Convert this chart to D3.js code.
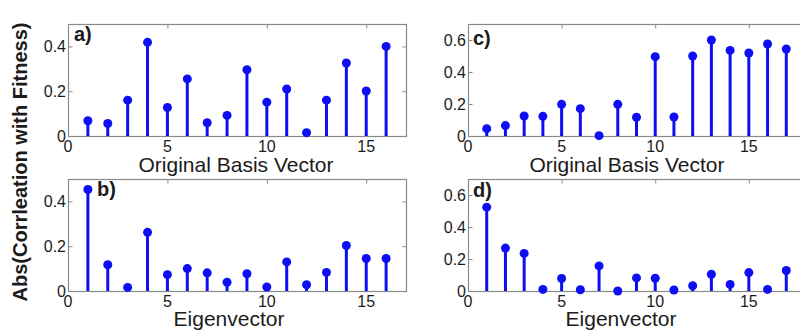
<!DOCTYPE html>
<html>
<head>
<meta charset="utf-8">
<script src="https://cdn.jsdelivr.net/npm/d3@7"></script>
<style>
  html, body { margin: 0; padding: 0; background: #fff; }
  svg { display: block; font-family: "Liberation Sans", Arial, sans-serif; }
</style>
</head>
<body>
<svg id="chart" width="800" height="330"></svg>
<script>
// ---- data ----
const indexA = d3.range(1, 17);
const valuesA = [0.068, 0.056, 0.16, 0.418, 0.127, 0.255, 0.059, 0.092, 0.296, 0.151, 0.21, 0.015, 0.16, 0.326, 0.201, 0.40];
const indexB = d3.range(1, 17);
const valuesB = [0.453, 0.117, 0.016, 0.262, 0.073, 0.10, 0.081, 0.039, 0.077, 0.018, 0.13, 0.028, 0.083, 0.203, 0.145, 0.145];
const indexC = d3.range(1, 18);
const valuesC = [0.046, 0.065, 0.125, 0.123, 0.198, 0.171, 0.002, 0.198, 0.117, 0.496, 0.119, 0.50, 0.60, 0.535, 0.519, 0.575, 0.544];
const indexD = d3.range(1, 18);
const valuesD = [0.524, 0.268, 0.235, 0.01, 0.078, 0.008, 0.157, 0.0, 0.082, 0.08, 0.006, 0.033, 0.105, 0.041, 0.115, 0.01, 0.128];
const xTicks = [0, 5, 10, 15];
const yTicksLeft = [0, 0.2, 0.4];
const yTicksRight = [0, 0.2, 0.4, 0.6];
const panelLabels = ["a)", "b)", "c)", "d)"];
const xTitles = ["Original Basis Vector", "Eigenvector", "Original Basis Vector", "Eigenvector"];
const yTitle = "Abs(Corrleation with Fitness)";

// ---- layout ----
const svg = d3.select("#chart");
const stemColor = "rgb(14,14,242)";
const frameColor = "#8a8a8a";
const textColor = "#1b1b1b";

const panels = [
  { idx: indexA, vals: valuesA, xDom: [0, 17], xRange: [68, 406], yDom: [0, 0.5], yRange: [136, 24], yTicks: yTicksLeft, label: panelLabels[0], lx: 74, ly: 41, title: xTitles[0], tx: 236, ty: 172 },
  { idx: indexB, vals: valuesB, xDom: [0, 17], xRange: [68, 406], yDom: [0, 0.5], yRange: [291, 179], yTicks: yTicksLeft, label: panelLabels[1], lx: 97, ly: 196, title: xTitles[1], tx: 229, ty: 326 },
  { idx: indexC, vals: valuesC, xDom: [0, 18], xRange: [468, 805], yDom: [0, 0.7], yRange: [136, 24], yTicks: yTicksRight, label: panelLabels[2], lx: 473, ly: 45, title: xTitles[2], tx: 627, ty: 172 },
  { idx: indexD, vals: valuesD, xDom: [0, 18], xRange: [468, 805], yDom: [0, 0.7], yRange: [291, 179], yTicks: yTicksRight, label: panelLabels[3], lx: 473, ly: 197, title: xTitles[3], tx: 621, ty: 326 }
];

const fmt = d => d === 0 ? "0" : d3.format(".1f")(d);

panels.forEach(p => {
  const x = d3.scaleLinear().domain(p.xDom).range(p.xRange);
  const y = d3.scaleLinear().domain(p.yDom).range(p.yRange);
  const g = svg.append("g");
  const [x0, x1] = p.xRange;
  const [yb, yt] = p.yRange;

  // frame
  g.append("rect")
    .attr("x", x0 + 0.5).attr("y", yt + 0.5)
    .attr("width", x1 - x0).attr("height", yb - yt)
    .attr("fill", "none").attr("stroke", frameColor).attr("stroke-width", 1.2);

  // inward ticks on all four sides
  const xAxisB = d3.axisBottom(x).tickValues(xTicks).tickSize(-4).tickFormat("");
  const xAxisT = d3.axisTop(x).tickValues(xTicks).tickSize(-4).tickFormat("");
  const yAxisL = d3.axisLeft(y).tickValues(p.yTicks).tickSize(-4).tickFormat("");
  const yAxisR = d3.axisRight(y).tickValues(p.yTicks).tickSize(-4).tickFormat("");
  [[xAxisB, `translate(0,${yb + 0.5})`], [xAxisT, `translate(0,${yt + 0.5})`],
   [yAxisL, `translate(${x0 + 0.5},0)`], [yAxisR, `translate(${x1 + 0.5},0)`]].forEach(([ax, tr]) => {
    const a = g.append("g").attr("transform", tr).call(ax);
    a.select(".domain").remove();
    a.selectAll("line").attr("stroke", frameColor).attr("stroke-width", 1);
  });

  // x tick labels
  g.selectAll(".xl").data(xTicks).join("text")
    .attr("x", d => x(d)).attr("y", yb + 15.5)
    .attr("text-anchor", "middle").attr("font-size", 16).attr("fill", textColor)
    .text(d => d);

  // y tick labels
  g.selectAll(".yl").data(p.yTicks).join("text")
    .attr("x", x0 - 2).attr("y", d => y(d)).attr("dy", "0.36em")
    .attr("text-anchor", "end").attr("font-size", 16).attr("fill", textColor)
    .text(fmt);

  // stems
  const data = p.idx.map((k, i) => ({ k, v: p.vals[i] }));
  g.selectAll(".stem").data(data).join("line")
    .attr("x1", d => x(d.k)).attr("x2", d => x(d.k))
    .attr("y1", y(0)).attr("y2", d => y(d.v))
    .attr("stroke", stemColor).attr("stroke-width", 3);
  g.selectAll(".dot").data(data).join("circle")
    .attr("cx", d => x(d.k)).attr("cy", d => y(d.v)).attr("r", 4.5)
    .attr("fill", stemColor);

  // panel label
  g.append("text").attr("x", p.lx).attr("y", p.ly)
    .attr("font-size", 20).attr("font-weight", "bold").attr("fill", textColor)
    .text(p.label);

  // x title
  g.append("text").attr("x", p.tx).attr("y", p.ty)
    .attr("text-anchor", "middle").attr("font-size", 21).attr("fill", textColor)
    .text(p.title);
});

// y title
svg.append("text")
  .attr("transform", "translate(27,162) rotate(-90)")
  .attr("text-anchor", "middle").attr("font-size", 20).attr("font-weight", "bold")
  .attr("fill", textColor)
  .text(yTitle);
</script>
</body>
</html>
